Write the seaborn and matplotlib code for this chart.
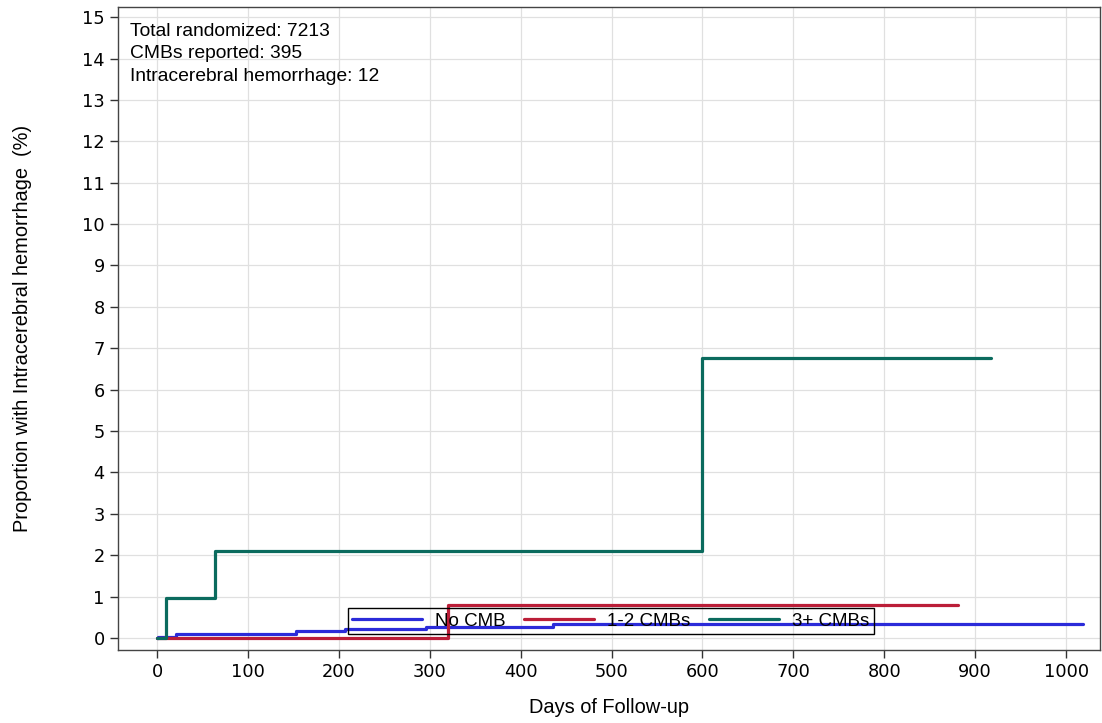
from matplotlib import pyplot as plt
import seaborn as sns
import pandas as pd

# step data (day, cumulative % at that day onwards)
no_cmb_days = [0, 1, 21, 153, 207, 296, 436, 1018]
no_cmb_pct = [0.0, 0.03, 0.09, 0.17, 0.22, 0.27, 0.33, 0.33]

cmb12_days = [0, 320, 881]
cmb12_pct = [0.0, 0.80, 0.80]

cmb3_days = [0, 10, 64, 600, 917]
cmb3_pct = [0.0, 0.97, 2.10, 6.77, 6.77]

groups = ["No CMB", "1-2 CMBs", "3+ CMBs"]
colors = ["#2b2bd9", "#bb1e38", "#0b6b5e"]

info_lines = ["Total randomized: 7213", "CMBs reported: 395", "Intracerebral hemorrhage: 12"]

frames = []
for g, d, p in zip(groups, [no_cmb_days, cmb12_days, cmb3_days], [no_cmb_pct, cmb12_pct, cmb3_pct]):
    frames.append(pd.DataFrame({"day": d, "pct": p, "group": g}))
data = pd.concat(frames, ignore_index=True)

sns.set_style("white")
plt.rcParams['font.family'] = ['DejaVu Sans']
plt.rcParams['text.color'] = 'black'
plt.rcParams['axes.labelcolor'] = 'black'
plt.rcParams['xtick.color'] = 'black'
plt.rcParams['ytick.color'] = 'black'

fig = plt.figure(figsize=(11.02, 7.23), dpi=100)
ax = fig.add_axes([0.107, 0.101, 0.891, 0.889])

ax.grid(True, color="#e0e0e0", linewidth=0.9)
ax.set_axisbelow(True)

sns.lineplot(data=data, x="day", y="pct", hue="group", hue_order=groups,
             palette=colors, drawstyle="steps-post", linewidth=2.3,
             estimator=None, sort=False, ax=ax)

ax.set_xlim(-43, 1037)
ax.set_ylim(-0.29, 15.24)
ax.set_xticks(range(0, 1001, 100))
ax.set_yticks(range(0, 16))
ax.tick_params(axis="both", direction="out", length=6, width=1, color="#333333",
               bottom=True, left=True)
for lab in ax.get_xticklabels() + ax.get_yticklabels():
    lab.set_family("DejaVu Sans")
    lab.set_fontsize(12.8)

for s in ax.spines.values():
    s.set_color("#444444")
    s.set_linewidth(1)

ax.set_xlabel("Days of Follow-up", fontsize=14.4, family="Liberation Sans", labelpad=12)
ax.set_ylabel("Proportion with Intracerebral hemorrhage  (%)", fontsize=14.4,
              family="Liberation Sans", labelpad=36)

ax.text(0.012, 0.976, "\n".join(info_lines), transform=ax.transAxes, fontsize=13.9,
        family="Liberation Sans", va="top", ha="left", linespacing=1.42)

handles, labels = ax.get_legend_handles_labels()
leg = ax.legend(handles, labels, loc="center", bbox_to_anchor=(0.502, 0.045), ncol=3,
                frameon=True, fancybox=False, edgecolor="black",
                handlelength=3.73, handletextpad=0.7, columnspacing=1.0,
                borderpad=0.22, borderaxespad=0,
                prop={"family": "Liberation Sans", "size": 13.5})
frame = leg.get_frame()
frame.set_facecolor("none")
frame.set_edgecolor("black")
frame.set_alpha(None)
frame.set_linewidth(1)

plt.savefig("out.png", dpi=100)
